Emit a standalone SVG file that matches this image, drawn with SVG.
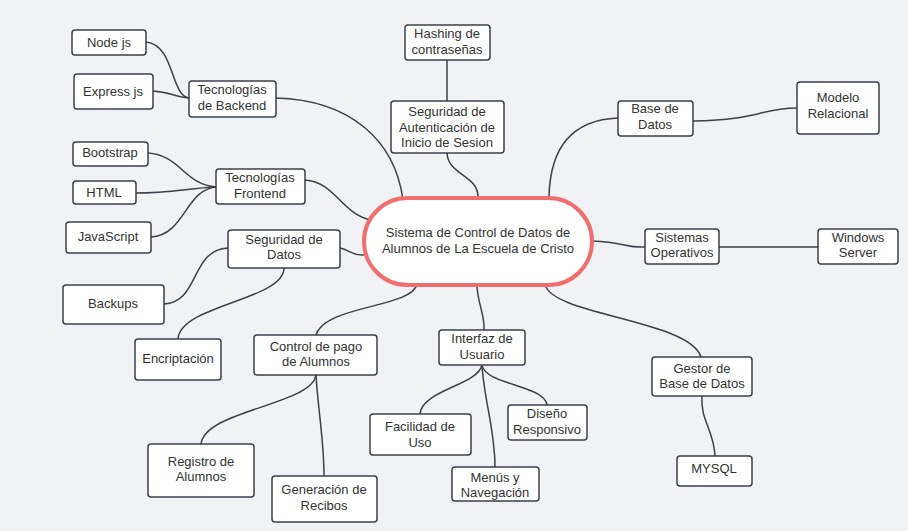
<svg xmlns="http://www.w3.org/2000/svg" width="908" height="531" viewBox="0 0 908 531">
<style>
.bg{fill:#f1f2f4}
.n{fill:#ffffff;stroke:#3b4149;stroke-width:1.5}
.c{fill:none;stroke:#3b4149;stroke-width:1.5}
.t{font-family:"Liberation Sans",Arial,sans-serif;font-size:13px;fill:#333333;text-anchor:middle}
.main{fill:#ffffff;stroke:#f26d6d;stroke-width:4}
</style>
<rect class="bg" x="0" y="0" width="908" height="531"/>
<g id="connectors">
<path class="c" d="M146,42 C175,45 170,95 189,98"/>
<path class="c" d="M153,91 C170,92 175,97 189,98"/>
<path class="c" d="M276,98 C350,100 395,140 403,200"/>
<path class="c" d="M148,153 C180,155 185,185 216,187"/>
<path class="c" d="M136,193 C170,193 190,188 216,187"/>
<path class="c" d="M151,237 C185,235 185,190 216,187"/>
<path class="c" d="M305,180 C335,182 340,212 370,220"/>
<path class="c" d="M340,248 C350,250 352,256 364,255"/>
<path class="c" d="M228,248 C190,250 200,302 164,304"/>
<path class="c" d="M284,268 C284,300 180,305 178,339"/>
<path class="c" d="M417,284 C412,308 325,305 316,335"/>
<path class="c" d="M316,375 C312,405 205,410 201,444"/>
<path class="c" d="M316,375 C318,410 324,440 324,476"/>
<path class="c" d="M477,286 C478,305 485,315 484,330"/>
<path class="c" d="M482,365 C478,385 422,390 420,414"/>
<path class="c" d="M482,365 C485,385 545,385 547,405"/>
<path class="c" d="M482,365 C484,400 495,430 495,467"/>
<path class="c" d="M545,284 C550,315 690,320 701,357"/>
<path class="c" d="M702,396 C700,420 714,430 715,456"/>
<path class="c" d="M478,197 C478,175 448,175 447,153"/>
<path class="c" d="M447,60 L447,101"/>
<path class="c" d="M549,197 C550,150 570,120 618,118"/>
<path class="c" d="M693,121 C760,120 760,108 797,108"/>
<path class="c" d="M592,241 C625,242 625,248 645,247"/>
<path class="c" d="M719,247 L818,247"/>
</g>
<g id="central">
<rect class="main" x="364" y="198" width="228" height="87" rx="43.5"/>
<text class="t" x="478" y="237">Sistema de Control de Datos de</text>
<text class="t" x="478" y="253">Alumnos de La Escuela de Cristo</text>
</g>
<g id="nodejs"><rect class="n" x="72" y="30" width="74" height="25" rx="3"/><text class="t" x="109" y="47">Node js</text></g>
<g id="expressjs"><rect class="n" x="74" y="74" width="79" height="35" rx="3"/><text class="t" x="113" y="95.5">Express js</text></g>
<g id="backend"><rect class="n" x="189" y="81" width="87" height="36" rx="3"/><text class="t" x="232" y="93.5">Tecnologías</text><text class="t" x="232" y="109.5">de Backend</text></g>
<g id="bootstrap"><rect class="n" x="73" y="142" width="75" height="24" rx="3"/><text class="t" x="110" y="156.5">Bootstrap</text></g>
<g id="html"><rect class="n" x="73" y="181" width="63" height="23" rx="3"/><text class="t" x="104" y="196.5">HTML</text></g>
<g id="javascript"><rect class="n" x="66" y="222" width="85" height="31" rx="3"/><text class="t" x="108" y="240.5">JavaScript</text></g>
<g id="frontend"><rect class="n" x="216" y="169" width="89" height="35" rx="3"/><text class="t" x="260" y="181.5">Tecnologías</text><text class="t" x="260" y="197.5">Frontend</text></g>
<g id="segdatos"><rect class="n" x="228" y="230" width="112" height="38" rx="3"/><text class="t" x="284" y="243.5">Seguridad de</text><text class="t" x="284" y="258.5">Datos</text></g>
<g id="backups"><rect class="n" x="63" y="285" width="101" height="39" rx="3"/><text class="t" x="113" y="307.5">Backups</text></g>
<g id="encriptacion"><rect class="n" x="135" y="339" width="86" height="41" rx="3"/><text class="t" x="178" y="362.5">Encriptación</text></g>
<g id="controlpago"><rect class="n" x="254" y="335" width="123" height="40" rx="3"/><text class="t" x="316" y="350.5">Control de pago</text><text class="t" x="316" y="365.5">de Alumnos</text></g>
<g id="registro"><rect class="n" x="148" y="444" width="106" height="53" rx="3"/><text class="t" x="201" y="465.5">Registro de</text><text class="t" x="201" y="480.5">Alumnos</text></g>
<g id="generacion"><rect class="n" x="272" y="476" width="105" height="46" rx="3"/><text class="t" x="324" y="493.5">Generación de</text><text class="t" x="324" y="509.5">Recibos</text></g>
<g id="hashing"><rect class="n" x="405" y="25" width="85" height="35" rx="3"/><text class="t" x="447" y="37.5">Hashing de</text><text class="t" x="447" y="53.5">contraseñas</text></g>
<g id="autenticacion"><rect class="n" x="391" y="101" width="113" height="52" rx="3"/><text class="t" x="447" y="115.5">Seguridad de</text><text class="t" x="447" y="131.5">Autenticación de</text><text class="t" x="447" y="146.5">Inicio de Sesion</text></g>
<g id="basedatos"><rect class="n" x="618" y="101" width="75" height="35" rx="3"/><text class="t" x="655" y="112.5">Base de</text><text class="t" x="655" y="128.5">Datos</text></g>
<g id="modelo"><rect class="n" x="797" y="82" width="82" height="52" rx="3"/><text class="t" x="838" y="101.5">Modelo</text><text class="t" x="838" y="117.5">Relacional</text></g>
<g id="sistemas"><rect class="n" x="645" y="229" width="74" height="35" rx="3"/><text class="t" x="682" y="241.5">Sistemas</text><text class="t" x="682" y="256.5">Operativos</text></g>
<g id="windows"><rect class="n" x="818" y="229" width="80" height="35" rx="3"/><text class="t" x="858" y="241.5">Windows</text><text class="t" x="858" y="256.5">Server</text></g>
<g id="interfaz"><rect class="n" x="439" y="330" width="86" height="35" rx="3"/><text class="t" x="482" y="342.5">Interfaz de</text><text class="t" x="482" y="358.5">Usuario</text></g>
<g id="facilidad"><rect class="n" x="370" y="414" width="101" height="41" rx="3"/><text class="t" x="420" y="430.5">Facilidad de</text><text class="t" x="420" y="446.5">Uso</text></g>
<g id="diseno"><rect class="n" x="508" y="405" width="79" height="35" rx="3"/><text class="t" x="547" y="417.5">Diseño</text><text class="t" x="547" y="433.5">Responsivo</text></g>
<g id="menus"><rect class="n" x="452" y="467" width="87" height="34" rx="3"/><text class="t" x="495" y="481.5">Menús y</text><text class="t" x="495" y="496.5">Navegación</text></g>
<g id="gestor"><rect class="n" x="652" y="357" width="100" height="39" rx="3"/><text class="t" x="702" y="372.5">Gestor de</text><text class="t" x="702" y="387.5">Base de Datos</text></g>
<g id="mysql"><rect class="n" x="677" y="456" width="75" height="30" rx="3"/><text class="t" x="714" y="472.5">MYSQL</text></g>
</svg>
